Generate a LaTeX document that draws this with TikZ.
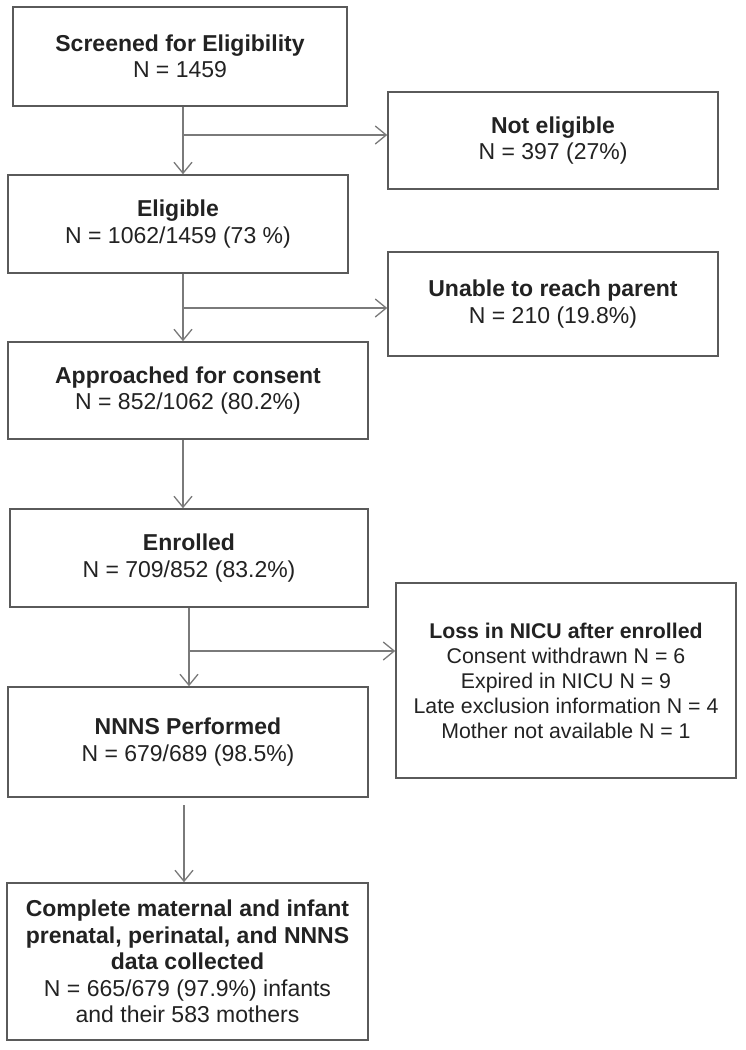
\documentclass[tikz,border=0pt]{standalone}
\usepackage{fontspec}
\setmainfont{Liberation Sans}
\usetikzlibrary{arrows.meta}
\definecolor{boxgray}{HTML}{5A5A5A}
\definecolor{arrgray}{HTML}{7A7A7A}
\definecolor{txt}{HTML}{222222}
\begin{document}
\begin{tikzpicture}[x=1pt,y=-1pt,
  box/.style={draw=boxgray, line width=1.5pt, align=center, inner sep=0pt,
    text=txt, font=\fontsize{23}{26.5}\selectfont},
  lossbox/.style={box, font=\fontsize{21.3}{25}\selectfont},
  arr/.style={draw=arrgray, line width=1.3pt, -{Straight Barb[length=11pt,width=18pt,line width=1.3pt]}}]
\useasboundingbox (0,0) rectangle (745,1050);
\fill[white] (0,0) rectangle (745,1050);

\node[box, minimum width=334pt, minimum height=99pt] (scr) at (180,56.5)
  {\textbf{Screened for Eligibility}\\N = 1459};
\node[box, minimum width=340pt, minimum height=98pt] (elig) at (178,224)
  {\textbf{Eligible}\\N = 1062/1459 (73 \%)};
\node[box, minimum width=360pt, minimum height=97pt] (appr) at (188,390.5)
  {\textbf{Approached for consent}\\N = 852/1062 (80.2\%)};
\node[box, minimum width=358pt, minimum height=98pt] (enr) at (189,558)
  {\textbf{Enrolled}\\N = 709/852 (83.2\%)};
\node[box, minimum width=360pt, minimum height=110pt] (nnns) at (188,742)
  {\textbf{NNNS Performed}\\N = 679/689 (98.5\%)};
\node[box, minimum width=361pt, minimum height=157pt] (comp) at (187.5,961.5)
  {\textbf{Complete maternal and infant}\\\textbf{prenatal, perinatal, and NNNS}\\\textbf{data collected}\\N = 665/679 (97.9\%) infants\\and their 583 mothers};

\node[box, minimum width=330pt, minimum height=97pt] (notel) at (553,140.5)
  {\textbf{Not eligible}\\N = 397 (27\%)};
\node[box, minimum width=330pt, minimum height=104pt] (unable) at (553,304)
  {\textbf{Unable to reach parent}\\N = 210 (19.8\%)};
\node[lossbox, minimum width=340pt, minimum height=195pt] (loss) at (566,680.5)
  {\textbf{Loss in NICU after enrolled}\\Consent withdrawn N = 6\\Expired in NICU N = 9\\Late exclusion information N = 4\\Mother not available N = 1};

\coordinate (b1) at (183,135);
\coordinate (b2) at (183,308);
\coordinate (b3) at (183,470);
\coordinate (b4) at (189,651);
\coordinate (b5) at (184,805);

\draw[arr] (scr.south -| b1) -- (elig.north -| b1);
\draw[arr] (b1) -- (b1 -| notel.west);
\draw[arr] (elig.south -| b2) -- (appr.north -| b2);
\draw[arr] (b2) -- (b2 -| unable.west);
\draw[arr] (appr.south -| b3) -- (enr.north -| b3);
\draw[arr] (enr.south -| b4) -- (nnns.north -| b4);
\draw[arr] (b4) -- (b4 -| loss.west);
\draw[arr] (b5) -- (comp.north -| b5);
\end{tikzpicture}
\end{document}
